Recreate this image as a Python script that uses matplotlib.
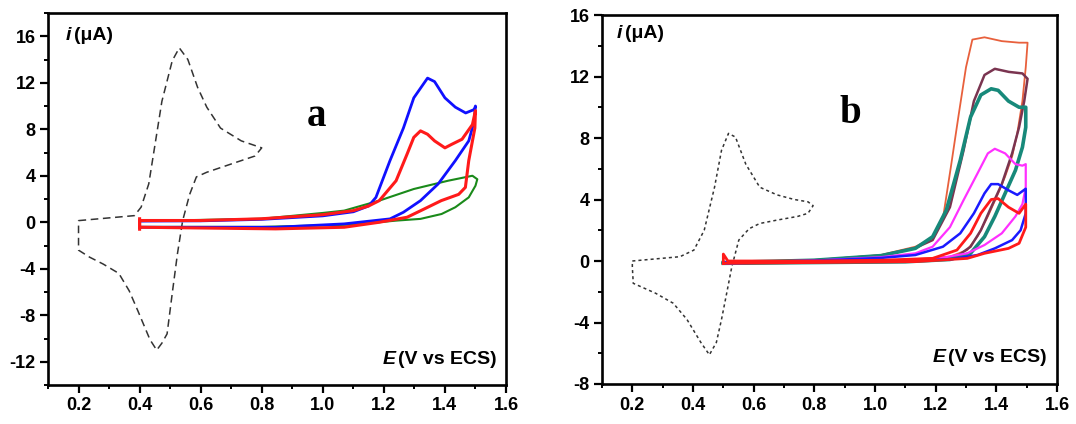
import matplotlib
matplotlib.use("Agg")
import matplotlib.pyplot as plt
from matplotlib.ticker import MultipleLocator

plt.rcParams['font.family'] = ['Liberation Sans', 'DejaVu Sans']

# ---------------- Panel a data ----------------
a_ref_E = [0.2, 0.383, 0.405, 0.43, 0.473, 0.507, 0.53, 0.558, 0.59, 0.62, 0.665, 0.733, 0.80,
           0.778, 0.71, 0.62, 0.586, 0.564, 0.541, 0.524, 0.507, 0.49, 0.473, 0.456, 0.434,
           0.394, 0.366, 0.332, 0.281, 0.236, 0.2, 0.2]
a_ref_i = [0.14, 0.57, 1.3, 3.3, 10.4, 13.9, 15.0, 14.0, 11.6, 9.9, 8.1, 7.0, 6.4,
           5.7, 5.1, 4.3, 3.9, 2.4, 0.14, -2.7, -6.1, -9.6, -10.4, -11.0, -10.1,
           -7.6, -5.9, -4.4, -3.6, -3.0, -2.4, 0.14]

a_blue_E = [0.4, 0.6, 0.8, 1.0, 1.1, 1.15, 1.174, 1.22, 1.264, 1.298, 1.343, 1.366, 1.4, 1.434,
            1.468, 1.496, 1.5, 1.496, 1.478, 1.434, 1.378, 1.32, 1.264, 1.22, 1.07, 0.846, 0.62, 0.4]
a_blue_i = [0.1, 0.12, 0.25, 0.55, 0.9, 1.4, 2.14, 5.3, 8.1, 10.7, 12.4, 12.1, 10.7, 9.9,
            9.4, 9.7, 10.0, 8.7, 7.0, 5.3, 3.3, 1.86, 0.86, 0.29, -0.14, -0.43, -0.43, -0.43]

a_red_E = [0.4, 0.4, 0.6, 0.8, 1.0, 1.1, 1.15, 1.185, 1.24, 1.276, 1.298, 1.32, 1.343, 1.366, 1.4,
           1.422, 1.456, 1.49, 1.5, 1.498, 1.478, 1.467, 1.445, 1.388, 1.332, 1.276, 1.185,
           1.07, 0.846, 0.4, 0.4]
a_red_i = [-0.6, 0.15, 0.15, 0.3, 0.65, 1.0, 1.4, 1.86, 3.57, 5.86, 7.3, 7.86, 7.57, 7.0, 6.4,
           6.7, 7.14, 8.4, 9.6, 8.1, 5.3, 3.0, 2.4, 1.86, 1.14, 0.43, 0.0,
           -0.43, -0.57, -0.43, 0.3]

a_green_E = [0.4, 0.8, 1.0, 1.07, 1.185, 1.298, 1.41, 1.49, 1.506, 1.5, 1.478, 1.434, 1.389,
             1.32, 1.24, 1.1, 0.8, 0.4]
a_green_i = [0.1, 0.3, 0.8, 1.0, 1.86, 2.86, 3.57, 4.0, 3.7, 3.14, 2.14, 1.29, 0.71,
             0.29, 0.14, -0.2, -0.4, -0.4]

# ---------------- Panel b data ----------------
b_ref_E = [0.2, 0.357, 0.403, 0.437, 0.471, 0.494, 0.517, 0.54, 0.574, 0.62, 0.677, 0.734, 0.779,
           0.796, 0.779, 0.745, 0.677, 0.62, 0.585, 0.551, 0.528, 0.511, 0.494, 0.477, 0.454,
           0.426, 0.38, 0.335, 0.277, 0.203, 0.2, 0.2]
b_ref_i = [0.0, 0.28, 0.71, 2.0, 4.8, 7.2, 8.3, 8.06, 6.3, 4.8, 4.3, 4.0, 3.85,
           3.6, 3.1, 2.9, 2.66, 2.44, 2.1, 1.36, -0.37, -2.1, -3.8, -5.3, -6.1,
           -5.3, -3.8, -2.75, -2.1, -1.45, -0.37, 0.0]

b_orange_E = [0.5, 0.8, 1.019, 1.133, 1.19, 1.225, 1.25, 1.275, 1.3, 1.321, 1.361, 1.418, 1.475,
              1.503, 1.497, 1.486, 1.469, 1.452, 1.429, 1.406, 1.372, 1.338, 1.304, 1.247, 1.02, 0.5]
b_orange_i = [-0.1, 0.05, 0.39, 0.93, 1.5, 2.9, 6.1, 9.4, 12.6, 14.4, 14.55, 14.3, 14.2,
              14.2, 12.6, 10.4, 8.3, 6.8, 5.5, 4.4, 2.9, 1.6, 0.71, 0.28, -0.04, -0.15]

b_maroon_E = [0.5, 0.8, 1.02, 1.133, 1.19, 1.247, 1.292, 1.326, 1.361, 1.395, 1.441, 1.486, 1.503,
              1.492, 1.475, 1.452, 1.418, 1.383, 1.349, 1.315, 1.269, 1.1, 0.5]
b_maroon_i = [-0.1, 0.05, 0.35, 0.85, 1.36, 3.5, 7.2, 10.4, 12.1, 12.5, 12.3, 12.2, 11.85,
              10.4, 8.7, 7.0, 5.0, 3.5, 2.0, 0.93, 0.28, -0.05, -0.15]

b_teal_E = [0.5, 0.8, 1.02, 1.133, 1.19, 1.235, 1.281, 1.315, 1.349, 1.383, 1.406, 1.44, 1.475,
            1.497, 1.497, 1.486, 1.463, 1.429, 1.395, 1.361, 1.315, 1.247, 1.1, 0.5]
b_teal_i = [-0.1, 0.05, 0.35, 0.82, 1.58, 3.3, 6.55, 9.36, 10.8, 11.2, 11.1, 10.4, 10.0,
            10.0, 8.7, 7.4, 5.9, 4.4, 2.9, 1.58, 0.5, 0.1, -0.05, -0.15]

b_magenta_E = [0.5, 0.8, 1.02, 1.133, 1.19, 1.247, 1.292, 1.338, 1.372, 1.395, 1.429, 1.463, 1.486,
               1.497, 1.497, 1.486, 1.463, 1.418, 1.361, 1.304, 1.19, 0.5]
b_magenta_i = [-0.1, 0.03, 0.25, 0.5, 0.93, 2.2, 3.96, 5.7, 7.0, 7.3, 7.0, 6.3, 6.2,
               6.3, 4.8, 3.7, 2.9, 1.8, 1.04, 0.5, 0.1, -0.15]

b_blue_E = [0.5, 0.8, 1.02, 1.133, 1.224, 1.281, 1.326, 1.361, 1.383, 1.406, 1.44, 1.469, 1.497,
            1.497, 1.48, 1.452, 1.395, 1.338, 1.247, 0.5]
b_blue_i = [-0.1, 0.02, 0.2, 0.39, 0.93, 1.8, 3.1, 4.4, 5.0, 5.0, 4.6, 4.3, 4.7,
            3.1, 2.0, 1.36, 0.82, 0.39, 0.1, -0.15]

b_red_E = [0.5, 0.5, 0.515, 0.8, 1.02, 1.19, 1.27, 1.315, 1.349, 1.383, 1.406, 1.44, 1.475, 1.497,
           1.497, 1.475, 1.44, 1.361, 1.304, 1.133, 0.5]
b_red_i = [-0.15, 0.45, 0.0, 0.0, 0.05, 0.17, 0.71, 1.8, 3.1, 4.0, 4.06, 3.5, 3.1, 3.7,
           2.2, 1.15, 0.82, 0.5, 0.17, -0.04, -0.15]

x_ticks = [0.2, 0.4, 0.6, 0.8, 1.0, 1.2, 1.4, 1.6]
x_ticklabels = ['0.2', '0.4', '0.6', '0.8', '1.0', '1.2', '1.4', '1.6']
a_yticks = [-12, -8, -4, 0, 4, 8, 12, 16]
b_yticks = [-8, -4, 0, 4, 8, 12, 16]

fig = plt.figure(figsize=(10.76, 4.24), dpi=100)
W, H = 1076, 424
ax_a = fig.add_axes([48 / W, 1 - 385 / H, (506 - 48) / W, (385 - 13) / H])
ax_b = fig.add_axes([602 / W, 1 - 384 / H, (1057 - 602) / W, (384 - 15) / H])


def style(ax, yticks, ylim):
    ax.set_xlim(0.1, 1.6)
    ax.set_ylim(*ylim)
    ax.set_xticks(x_ticks)
    ax.set_xticklabels(x_ticklabels)
    ax.set_yticks(yticks)
    ax.set_yticklabels([str(v) for v in yticks])
    ax.xaxis.set_minor_locator(MultipleLocator(0.1))
    ax.yaxis.set_minor_locator(MultipleLocator(2))
    ax.tick_params(which='major', direction='out', length=6, width=1.6,
                   labelsize=13, pad=3, top=False, right=False)
    ax.tick_params(which='minor', direction='out', length=3, width=1.4,
                   top=False, right=False)
    for lab in ax.get_xticklabels() + ax.get_yticklabels():
        lab.set_fontweight('bold')
    for sp in ax.spines.values():
        sp.set_linewidth(1.9)


FS = 14


def label_pair(x_left, y_c, italic, rest):
    t1 = fig.text(x_left / W, 1 - y_c / H, italic, fontsize=FS, fontweight='bold',
                  fontstyle='italic', va='center', ha='left')
    fig.canvas.draw()
    bb = t1.get_window_extent()
    fig.text((bb.x1 + 3) / W, 1 - y_c / H, rest, fontsize=FS, fontweight='bold',
             va='center', ha='left')


def label_pair_right(x_right, y_c, italic, rest):
    t2 = fig.text(x_right / W, 1 - y_c / H, rest, fontsize=FS, fontweight='bold',
                  va='center', ha='right')
    fig.canvas.draw()
    bb = t2.get_window_extent()
    fig.text((bb.x0 - 3) / W, 1 - y_c / H, italic, fontsize=FS, fontweight='bold',
             fontstyle='italic', va='center', ha='right')


# Panel a
ax_a.plot(a_ref_E, a_ref_i, color='#333333', lw=1.1, ls=(0, (5, 3)))
ax_a.plot(a_green_E, a_green_i, color='#1a8a1a', lw=1.5)
ax_a.plot(a_blue_E, a_blue_i, color='#1010ff', lw=2.0)
ax_a.plot(a_red_E, a_red_i, color='#ff1a1a', lw=2.2)
style(ax_a, a_yticks, (-14, 18))
fig.text(317 / W, 1 - 116 / H, 'a', fontsize=28, fontweight='bold', va='center', ha='center',
         family=['Liberation Serif', 'DejaVu Serif'])

# Panel b
ax_b.plot(b_ref_E, b_ref_i, color='#333333', lw=1.1, ls=(0, (2, 2)))
ax_b.plot(b_orange_E, b_orange_i, color='#e8603c', lw=1.3)
ax_b.plot(b_maroon_E, b_maroon_i, color='#7a3450', lw=1.8)
ax_b.plot(b_teal_E, b_teal_i, color='#17897a', lw=2.6)
ax_b.plot(b_magenta_E, b_magenta_i, color='#ff30ff', lw=1.6)
ax_b.plot(b_blue_E, b_blue_i, color='#1a1aff', lw=1.8)
ax_b.plot(b_red_E, b_red_i, color='#ff1a1a', lw=2.0)
style(ax_b, b_yticks, (-8, 16))
fig.text(850 / W, 1 - 113 / H, 'b', fontsize=28, fontweight='bold', va='center', ha='center',
         family=['Liberation Serif', 'DejaVu Serif'])

label_pair(66, 36, 'i', '(μA)')
label_pair_right(497, 359, 'E', '(V vs ECS)')
label_pair(617, 34, 'i', '(μA)')
label_pair_right(1047, 358, 'E', '(V vs ECS)')

fig.savefig('out.png', dpi=100)
